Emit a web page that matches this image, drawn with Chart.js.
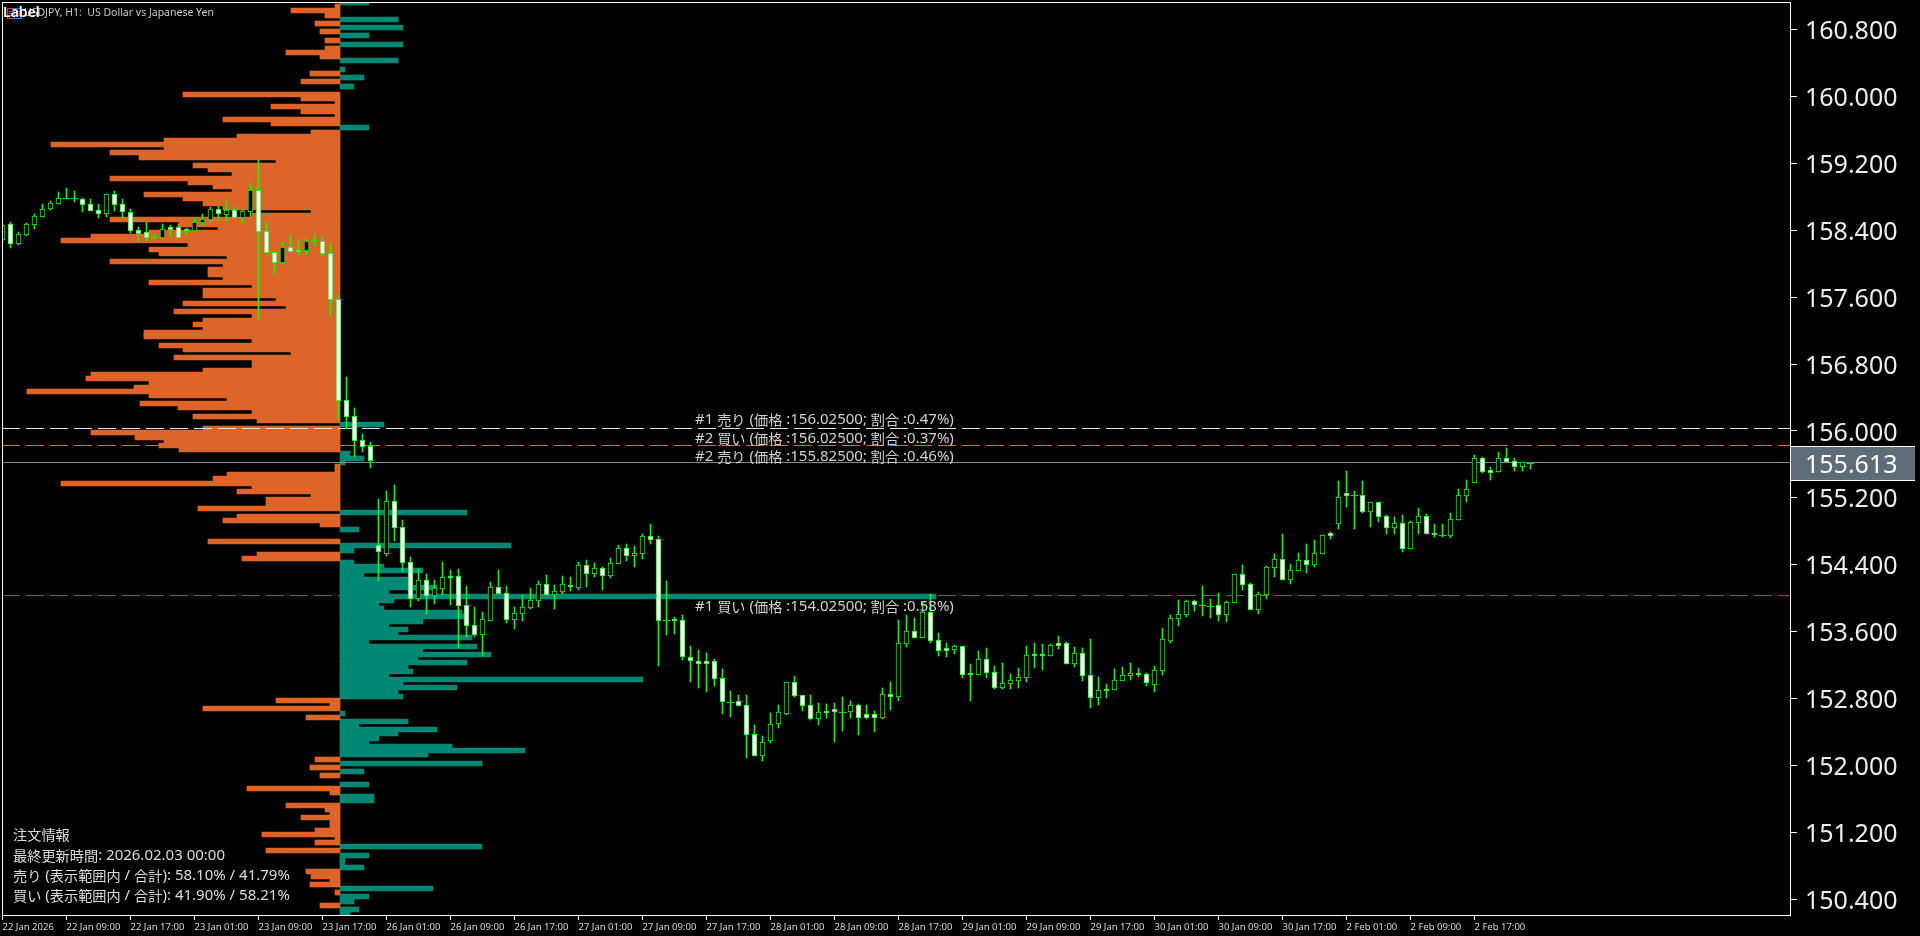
<!DOCTYPE html>
<html>
<head>
<meta charset="utf-8">
<title>USDJPY H1</title>
<script src="https://cdn.jsdelivr.net/npm/chart.js@4/dist/chart.umd.min.js"></script>
<style>
  html, body { margin: 0; background: #000; }
  canvas { display: block; }
</style>
</head>
<body>
<canvas id="myChart" width="1920" height="936"></canvas>
<script>
// hourly candles, one entry per bar
const opens = [
  158.28,158.48,158.24,158.34,158.46,158.56,158.65,158.71,158.79,158.79,
  158.77,158.71,158.64,158.59,158.83,158.71,158.62,158.40,158.38,158.32,
  158.31,158.44,158.44,158.42,158.39,158.49,158.52,158.65,158.58,158.64,
  158.55,158.62,158.88,158.39,158.14,158.01,158.20,158.16,158.15,158.28,
  158.27,158.13,157.58,156.37,156.18,155.89,155.82,154.64,154.53,155.16,
  154.85,154.43,153.99,154.22,154.02,154.11,154.26,154.26,153.92,153.68,
  153.56,153.73,154.13,154.06,153.74,153.81,153.88,153.96,154.17,154.04,
  154.07,154.16,154.12,154.40,154.29,154.36,154.26,154.41,154.60,154.50,
  154.53,154.74,154.71,153.74,153.75,153.74,153.30,153.25,153.25,153.25,
  153.04,152.76,152.77,152.72,152.37,152.11,152.29,152.49,152.61,153.00,
  152.84,152.72,152.55,152.65,152.67,152.64,152.64,152.72,152.61,152.61,
  152.57,152.85,152.82,153.45,153.61,153.52,153.83,153.50,153.40,153.38,
  153.43,153.10,153.08,153.27,153.12,152.92,152.97,153.01,153.04,153.33,
  153.33,153.31,153.46,153.46,153.21,153.34,153.08,152.80,152.91,152.90,
  153.01,153.07,153.10,153.09,152.96,153.13,153.49,153.75,153.80,153.96,
  153.92,153.91,153.92,153.80,153.94,154.29,154.17,153.86,154.04,154.36,
  154.47,154.22,154.33,154.46,154.40,154.53,154.78,154.89,155.26,155.23,
  155.23,155.03,155.15,154.98,154.84,154.90,154.59,154.90,154.98,154.78,
  154.76,154.74,154.93,155.22,155.38,155.68,155.53,155.51,155.68,155.64,
  155.57,155.62
];
const closes = [
  158.46,158.24,158.35,158.48,158.57,158.65,158.73,158.79,158.79,158.79,
  158.70,158.63,158.59,158.83,158.70,158.62,158.39,158.35,158.31,158.32,
  158.42,158.40,158.31,158.39,158.50,158.53,158.65,158.59,158.64,158.55,
  158.63,158.88,158.38,158.13,158.01,158.20,158.14,158.14,158.27,158.28,
  158.12,157.57,156.36,156.17,155.88,155.81,155.64,154.55,155.16,154.84,
  154.42,153.99,154.22,154.02,154.12,154.25,154.24,153.90,153.67,153.56,
  153.75,154.13,154.05,153.74,153.82,153.89,153.98,154.17,154.04,154.08,
  154.17,154.13,154.40,154.29,154.36,154.26,154.42,154.60,154.50,154.54,
  154.74,154.69,153.73,153.74,153.73,153.30,153.25,153.21,153.21,153.03,
  152.76,152.76,152.71,152.36,152.11,152.28,152.49,152.64,153.00,152.83,
  152.71,152.55,152.64,152.63,152.64,152.64,152.72,152.57,152.57,152.57,
  152.85,152.82,153.46,153.61,153.52,153.83,153.49,153.37,153.37,153.43,
  153.08,153.08,153.27,153.10,152.92,152.98,153.02,153.06,153.32,153.31,
  153.31,153.44,153.43,153.21,153.34,153.07,152.80,152.90,152.89,153.02,
  153.08,153.11,153.08,152.99,153.14,153.51,153.76,153.81,153.96,153.92,
  153.92,153.91,153.80,153.95,154.29,154.16,153.86,154.05,154.37,154.47,
  154.22,154.34,154.46,154.40,154.54,154.75,154.74,155.21,155.22,155.23,
  155.03,155.15,154.97,154.84,154.90,154.59,154.91,154.98,154.77,154.75,
  154.76,154.95,155.23,155.30,155.68,155.51,155.50,155.68,155.63,155.57,
  155.63,155.62
];
const highs = [
  158.48,158.50,158.38,158.49,158.60,158.71,158.75,158.86,158.91,158.87,
  158.79,158.77,158.71,158.83,158.87,158.77,158.65,158.44,158.50,158.35,
  158.48,158.46,158.48,158.43,158.55,158.59,158.68,158.69,158.75,158.68,
  158.65,158.97,159.24,158.50,158.14,158.26,158.33,158.30,158.30,158.35,
  158.32,158.24,157.63,156.64,156.27,155.96,155.87,155.18,155.28,155.35,
  154.93,154.49,154.35,154.29,154.22,154.43,154.34,154.35,154.14,153.89,
  153.83,154.19,154.34,154.14,153.89,154.04,154.12,154.20,154.28,154.16,
  154.26,154.25,154.43,154.45,154.42,154.37,154.48,154.63,154.65,154.62,
  154.77,154.89,154.74,154.20,153.77,153.80,153.43,153.38,153.34,153.27,
  153.15,152.89,152.84,152.84,152.48,152.35,152.63,152.72,153.00,153.07,
  152.84,152.84,152.75,152.73,152.75,152.82,152.77,152.73,152.72,152.65,
  152.92,153.00,153.74,153.80,153.76,153.95,154.05,153.58,153.46,153.44,
  153.43,153.21,153.37,153.40,153.19,153.22,153.09,153.16,153.43,153.46,
  153.45,153.45,153.55,153.47,153.41,153.40,153.51,153.06,152.97,153.15,
  153.18,153.22,153.16,153.10,153.19,153.64,153.80,153.98,153.98,153.98,
  154.14,153.99,154.06,153.96,154.29,154.40,154.18,154.07,154.38,154.53,
  154.77,154.41,154.54,154.65,154.69,154.75,154.79,155.40,155.52,155.28,
  155.40,155.15,155.15,154.99,154.97,154.99,154.92,155.08,155.01,154.89,
  154.89,155.02,155.30,155.41,155.71,155.69,155.57,155.75,155.80,155.68,
  155.63,155.62
];
const lows = [
  158.26,158.19,158.22,158.33,158.42,158.56,158.64,158.71,158.77,158.74,
  158.62,158.63,158.55,158.56,158.63,158.55,158.37,158.27,158.27,158.30,
  158.31,158.33,158.31,158.34,158.38,158.45,158.50,158.52,158.51,158.55,
  158.49,158.56,157.33,158.13,157.88,158.01,158.14,158.10,158.10,158.21,
  158.10,157.37,156.13,156.02,155.69,155.75,155.56,154.20,154.50,154.68,
  154.31,153.89,153.96,153.81,153.93,154.04,153.92,153.40,153.53,153.53,
  153.31,153.73,154.05,153.70,153.63,153.73,153.87,153.89,154.04,153.87,
  154.05,154.08,154.10,154.13,154.25,154.10,154.24,154.41,154.44,154.37,
  154.47,154.65,153.19,153.56,153.57,153.26,153.00,152.92,152.88,152.95,
  152.61,152.58,152.71,152.09,152.11,152.05,152.27,152.45,152.60,152.82,
  152.65,152.54,152.48,152.57,152.28,152.41,152.57,152.36,152.55,152.40,
  152.55,152.66,152.77,153.41,153.52,153.52,153.46,153.31,153.30,153.33,
  153.04,152.77,153.08,153.04,152.91,152.91,152.91,152.92,153.00,153.16,
  153.14,153.31,153.39,153.21,153.17,153.01,152.68,152.72,152.80,152.90,
  153.01,153.02,153.06,152.95,152.88,153.08,153.46,153.67,153.77,153.85,
  153.79,153.76,153.73,153.71,153.94,154.10,153.86,153.81,153.99,154.25,
  154.22,154.17,154.33,154.30,154.37,154.53,154.71,154.83,155.09,154.83,
  155.02,154.85,154.91,154.77,154.77,154.55,154.59,154.77,154.77,154.73,
  154.73,154.72,154.93,155.15,155.38,155.50,155.41,155.51,155.63,155.52,
  155.52,155.54
];

// order book profile: price bin and size on each side
const sellPrices = [
  161.075,161.025,160.975,160.875,160.775,160.675,160.575,160.525,160.475,160.275,160.175,
  160.025,159.975,159.925,159.875,159.825,159.775,159.725,159.675,159.575,159.525,159.475,
  159.425,159.375,159.325,159.275,159.225,159.175,159.125,159.075,159.025,158.975,158.925,
  158.875,158.825,158.775,158.725,158.675,158.625,158.575,158.525,158.475,158.425,158.375,
  158.325,158.275,158.225,158.175,158.125,158.075,158.025,157.975,157.925,157.875,157.825,
  157.775,157.725,157.675,157.625,157.575,157.525,157.475,157.425,157.375,157.325,157.275,
  157.225,157.175,157.125,157.075,157.025,156.975,156.925,156.875,156.825,156.775,156.725,
  156.675,156.625,156.575,156.525,156.475,156.425,156.375,156.325,156.275,156.225,156.175,
  156.125,156.025,155.975,155.925,155.875,155.825,155.775,155.575,155.525,155.475,155.425,
  155.375,155.325,155.275,155.225,155.175,155.125,155.075,154.975,154.925,154.875,154.675,
  154.525,154.475,152.775,152.725,152.675,152.575,152.075,151.975,151.875,151.725,151.675,
  151.525,151.475,151.425,151.375,151.325,151.275,151.225,151.175,151.125,151.075,150.975,
  150.725,150.675,150.625,150.575,150.475,150.325
];
const sellSizes = [
  1,9.8,3,5,4,3,3,10.8,4,6,7.8,
  31.4,7.8,1,13.8,7.8,1,23.4,13.8,5.8,20.6,35.2,
  57.8,35.2,46,40.2,12.8,29.4,26.4,21.6,46,30.4,25.4,
  21.6,39.2,31.4,27.4,23.4,5.8,17.6,46,32.2,24.4,38.2,
  49.8,55.8,30.4,38.2,36.2,22.6,46,23.4,26.4,26.4,23.4,
  38.2,17.6,27.4,27.4,12.8,31.4,10.8,33.2,17.6,27.4,29.4,
  27.4,39.2,39.2,17.6,36.2,31.4,9.8,33.2,17.6,17.6,27.4,
  49.8,50.8,38.2,41.2,62.6,38.2,22.6,40,32.4,17.6,29.4,
  16.6,27.4,49.8,41,35.2,36.2,32.2,1,1,22.6,25.4,
  55.8,17.6,20.6,5.8,14.8,14.8,28.4,20.6,23.4,4,26.4,
  16.6,19.6,12.8,2,27.4,6.8,5,6,4,18.6,2,
  10.8,3,2,7.8,2,2,5,15.6,1,5,14.8,
  6.8,5.8,2,6,1,4
];
const buyPrices = [
  161.125,160.925,160.825,160.725,160.625,160.425,160.325,160.225,160.125,159.625,156.075,
  155.725,155.675,155.625,155.025,154.825,154.625,154.575,154.425,154.375,154.325,154.275,
  154.225,154.175,154.125,154.075,154.025,153.975,153.925,153.875,153.825,153.775,153.725,
  153.675,153.625,153.575,153.525,153.475,153.425,153.375,153.325,153.275,153.225,153.175,
  153.125,153.075,153.025,152.975,152.925,152.875,152.825,152.625,152.525,152.475,152.425,
  152.375,152.325,152.275,152.225,152.175,152.125,152.025,151.925,151.775,151.625,151.575,
  151.025,150.925,150.875,150.825,150.775,150.525,150.425,150.375,150.275,150.225
];
const buySizes = [
  5.8,11.6,12.6,5.8,12.6,11.6,1,4.8,2.8,5.8,8.8,
  2,4.8,1,25.4,3.8,34.2,2.8,2.8,8.8,16.6,4.8,
  14,14,19.4,9.8,119.2,10.8,7.8,8.8,24.4,24.8,16.6,
  9.8,13.6,11.6,26.4,5.8,27.4,16.6,30.2,15.6,25.4,13.6,
  14.6,9.8,60.6,12.6,23.4,11.6,12.6,1,13.6,3.8,19.4,
  11.6,7.8,5.8,22.4,37,17.6,28.4,4.8,5.8,6.8,6.8,
  28.4,5.8,1,1,4.8,18.6,5.8,2.8,3.8,2
];

// axis labels
const priceTicks = [150.4,151.2,152,152.8,153.6,154.4,155.2,156,156.8,157.6,158.4,159.2,160,160.8];
const timeLabels = [
  '22 Jan 2026','22 Jan 09:00','22 Jan 17:00','23 Jan 01:00','23 Jan 09:00','23 Jan 17:00',
  '26 Jan 01:00','26 Jan 09:00','26 Jan 17:00','27 Jan 01:00','27 Jan 09:00','27 Jan 17:00',
  '28 Jan 01:00','28 Jan 09:00','28 Jan 17:00','29 Jan 01:00','29 Jan 09:00','29 Jan 17:00',
  '30 Jan 01:00','30 Jan 09:00','30 Jan 17:00','2 Feb 01:00','2 Feb 09:00','2 Feb 17:00'
];

// order levels and last price
const sell1Price = 156.025;
const sell2Price = 155.825;
const buy1Price = 154.025;
const lastPrice = 155.613;

const orderTexts = [
  '#1 売り (価格 :156.02500; 割合 :0.47%)',
  '#2 買い (価格 :156.02500; 割合 :0.37%)',
  '#2 売り (価格 :155.82500; 割合 :0.46%)',
  '#1 買い (価格 :154.02500; 割合 :0.58%)'
];
const infoTexts = [
  '注文情報',
  '最終更新時間: 2026.02.03 00:00',
  '売り (表示範囲内 / 合計): 58.10% / 41.79%',
  '買い (表示範囲内 / 合計): 41.90% / 58.21%'
];
const titleText = 'USDJPY, H1:  US Dollar vs Japanese Yen';

const ORANGE = '#dd6529';
const TEAL = '#008875';
const LIME = '#00ff00';

const xMin = -0.0625;
const xMax = 223.4375;

const wicks = [], bulls = [], bears = [], flats = [];
opens.forEach((o, i) => {
  const c = closes[i];
  wicks.push({ x: i, y: [lows[i], highs[i]] });
  if (c > o) bulls.push({ x: i, y: [o, c] });
  else if (c < o) bears.push({ x: i, y: [o, c] });
  else flats.push({ x: i, y: [o, c] });
});

function profileSet(prices, sizes, sign, color) {
  return {
    type: 'bar', indexAxis: 'y', xAxisID: 'x2', yAxisID: 'y',
    data: prices.map((p, i) => ({ x: sign * sizes[i], y: p })),
    backgroundColor: color, barThickness: 5, grouped: false, order: 20
  };
}
function levelSet(price, color, dash) {
  return {
    type: 'line', xAxisID: 'x', yAxisID: 'y',
    data: [{ x: xMin, y: price }, { x: xMax, y: price }],
    borderColor: color, borderWidth: 1, borderDash: dash, pointRadius: 0, order: 10
  };
}
function bodySet(data, fill, width) {
  return {
    type: 'bar', xAxisID: 'x', yAxisID: 'y', data,
    backgroundColor: fill, borderColor: LIME, borderWidth: 1, borderSkipped: false,
    barThickness: width, grouped: false, order: 1
  };
}

// kanji and kana run narrower than the latin text in the original labels
function drawMixed(ctx, text, x, y) {
  text.match(/[\u3040-\u9fff]+|[^\u3040-\u9fff]+/g).forEach(run => {
    ctx.font = /[\u3040-\u9fff]/.test(run) ? '14.2px "Noto Sans CJK JP"' : '15px "Noto Sans"';
    ctx.fillText(run, x, y);
    x += ctx.measureText(run).width;
  });
}

// MetaTrader draws on whole pixels, bars here would come out blurred otherwise
const pixelSnap = {
  id: 'pixelSnap',
  afterDatasetsUpdate(chart) {
    chart.getSortedVisibleDatasetMetas().forEach(meta => {
      if (meta.type === 'line') {
        meta.data.forEach(pt => { pt.y = Math.round(pt.y - 0.8) + 0.5; });
        return;
      }
      meta.data.forEach(el => {
        if (el.horizontal) {
          el.y = Math.round(el.y - el.height / 2) + el.height / 2;
          el.x = Math.round(el.x);
          el.base = Math.round(el.base);
        } else {
          el.y = Math.round(el.y);
          el.base = Math.round(el.base);
          if (el.y === el.base) el.base = el.y + 1;
        }
      });
    });
  }
};

const overlays = {
  id: 'overlays',
  afterDraw(chart) {
    const { ctx, chartArea: a, scales } = chart;
    ctx.save();
    // frame, the axes only give the right and bottom edges
    ctx.fillStyle = '#fff';
    ctx.fillRect(a.left, a.top, a.right - a.left, 1);
    ctx.fillRect(a.left, a.top, 1, a.bottom - a.top);

    // last price box
    const yLast = Math.round(scales.y.getPixelForValue(lastPrice));
    ctx.fillStyle = '#5e6c7a';
    ctx.fillRect(a.right + 1, yLast - 16, 124, 33);
    ctx.fillStyle = '#fff';
    ctx.fillRect(a.right + 1, yLast - 17, 124, 1);
    ctx.fillRect(a.right + 1, yLast + 17, 124, 1);
    ctx.font = '25px "Noto Sans"';
    ctx.textBaseline = 'middle';
    ctx.fillText(lastPrice.toFixed(3), 1805, yLast + 3);

    // order labels
    ctx.fillStyle = '#d0d0d0';
    [420, 439, 456.5, 606.5].forEach((y, i) => drawMixed(ctx, orderTexts[i], 695, y));

    // order info block
    ctx.fillStyle = '#dcdcdc';
    [835, 855.5, 876, 896].forEach((y, i) => drawMixed(ctx, infoTexts[i], 13, y));

    // top left title with the indicator icon and its label over it
    ctx.font = '10.5px "Noto Sans"';
    ctx.fillStyle = '#c8c8c8';
    ctx.fillText(titleText, 24, 13.5);
    ctx.strokeStyle = '#e03c30'; ctx.strokeRect(7.5, 8.5, 7, 10);
    ctx.strokeStyle = '#1e78d2'; ctx.strokeRect(14.5, 8.5, 7, 10);
    ctx.fillStyle = '#e03c30'; ctx.fillRect(9, 11, 5, 1); ctx.fillRect(9, 13, 5, 1); ctx.fillRect(9, 15, 5, 1);
    ctx.fillStyle = '#1e78d2'; ctx.fillRect(16, 11, 5, 1); ctx.fillRect(16, 13, 5, 1); ctx.fillRect(16, 15, 5, 1);
    ctx.font = '600 14px "Noto Sans"';
    ctx.fillStyle = '#fff';
    ctx.fillText('Label', 3, 13);
    ctx.restore();
  }
};

new Chart(document.getElementById('myChart'), {
  type: 'bar',
  data: {
    datasets: [
      profileSet(sellPrices, sellSizes, -1, ORANGE),
      profileSet(buyPrices, buySizes, 1, TEAL),
      levelSet(sell1Price, '#d6e4f0', [18, 6]),
      levelSet(sell2Price, ORANGE, [18, 6]),
      levelSet(buy1Price, TEAL, [18, 6]),
      levelSet(lastPrice, '#778899', []),
      { type: 'bar', xAxisID: 'x', yAxisID: 'y', data: wicks, backgroundColor: LIME,
        barThickness: 1, grouped: false, order: 5 },
      bodySet(bulls, '#000', 5),
      bodySet(bears, '#fff', 5),
      bodySet(flats, LIME, 7)
    ]
  },
  options: {
    responsive: false,
    animation: false,
    events: [],
    layout: { padding: { left: 2, top: 2 } },
    plugins: { legend: { display: false }, tooltip: { enabled: false } },
    scales: {
      x: {
        type: 'linear', axis: 'x', position: 'bottom', offset: false,
        min: xMin, max: xMax,
        afterBuildTicks: s => { s.ticks = timeLabels.map((t, i) => ({ value: i * 8 })); },
        afterFit: s => { s.height = 21; s.paddingLeft = 0; s.paddingRight = 0; },
        grid: { offset: false, drawOnChartArea: false, color: '#fff', tickLength: 5 },
        border: { color: '#fff' },
        ticks: {
          autoSkip: false, maxRotation: 0, align: 'start', padding: 2, color: '#d8d8d8',
          font: { family: '"Noto Sans"', size: 9.5 },
          callback: v => timeLabels[v / 8]
        }
      },
      x2: { type: 'linear', axis: 'x', display: false, offset: false, min: -67.6, max: 290 },
      y: {
        type: 'linear', position: 'right', offset: false, min: 150.2092, max: 161.1306,
        afterBuildTicks: s => { s.ticks = priceTicks.map(v => ({ value: v })); },
        // no room for half a label above and below, the plot runs to the window edge
        afterFit: s => { s.width = 130; s.paddingTop = 0; s.paddingBottom = 0; },
        grid: { offset: false, drawOnChartArea: false, color: '#fff', tickLength: 7 },
        border: { color: '#fff' },
        ticks: {
          padding: 8, color: '#ececec',
          font: { family: '"Noto Sans"', size: 25, lineHeight: '5px' },
          // empty first line with a 5px line height pushes the text a bit below the tick
          callback: v => ['', v.toFixed(3)]
        }
      }
    }
  },
  plugins: [pixelSnap, overlays]
});
</script>
</body>
</html>
